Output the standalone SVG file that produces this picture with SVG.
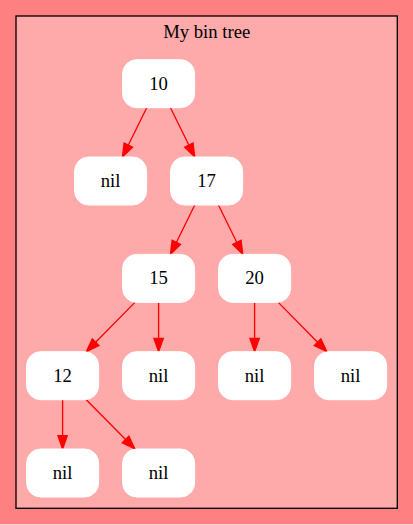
<svg xmlns="http://www.w3.org/2000/svg" width="413" height="525" viewBox="0 0 413 525">
<style>
.node rect{fill:#ffffff;stroke:#ffffff;stroke-width:1}
text{font-family:"Liberation Serif","Times New Roman",serif;font-size:18.67px;fill:#000000;text-anchor:middle}
.edges line{stroke:#ff0000;stroke-width:1.33}
.edges polygon{fill:#ff0000;stroke:#ff0000;stroke-width:1.33}
</style>
<rect x="0" y="0" width="413" height="524.4" fill="#ff8080"/>
<g id="cluster">
<rect x="16" y="16" width="381.3" height="492.3" fill="#ffaaaa" stroke="#000000" stroke-width="1.33"/>
<text x="206.7" y="37.8">My bin tree</text>
</g>
<g class="edges" id="edges">
<line x1="146.76" y1="107.7" x2="128.34" y2="145.04"/>
<polygon points="122.44,157 132.53,147.11 124.15,142.97"/>
<line x1="170.44" y1="107.7" x2="188.86" y2="145.04"/>
<polygon points="194.76,157 184.67,147.11 193.05,142.97"/>
<line x1="194.76" y1="205" x2="176.34" y2="242.44"/>
<polygon points="170.44,254.4 180.53,244.51 172.15,240.37"/>
<line x1="218.44" y1="205" x2="236.86" y2="242.44"/>
<polygon points="242.76,254.4 232.67,244.51 241.05,240.37"/>
<line x1="134.92" y1="302.4" x2="95.64" y2="342.21"/>
<polygon points="86.28,351.7 98.96,345.49 92.32,338.93"/>
<line x1="158.6" y1="302.4" x2="158.6" y2="338.37"/>
<polygon points="158.6,351.7 153.93,338.37 163.27,338.37"/>
<line x1="254.6" y1="302.4" x2="254.6" y2="338.37"/>
<polygon points="254.6,351.7 249.93,338.37 259.27,338.37"/>
<line x1="278.28" y1="302.4" x2="317.56" y2="342.21"/>
<polygon points="326.92,351.7 314.24,345.49 320.88,338.93"/>
<line x1="62.6" y1="399.7" x2="62.6" y2="435.67"/>
<polygon points="62.6,449 57.93,435.67 67.27,435.67"/>
<line x1="86.28" y1="399.7" x2="125.56" y2="439.51"/>
<polygon points="134.92,449 122.24,442.79 128.88,436.23"/>
</g>
<g id="n10" class="node"><rect x="122.6" y="59.7" width="72" height="48" rx="14"/><text x="158.6" y="89.5">10</text></g>
<g id="nilA" class="node"><rect x="74.6" y="157" width="72" height="48" rx="14"/><text x="110.6" y="186.8">nil</text></g>
<g id="n17" class="node"><rect x="170.6" y="157" width="72" height="48" rx="14"/><text x="206.6" y="186.8">17</text></g>
<g id="n15" class="node"><rect x="122.6" y="254.4" width="72" height="48" rx="14"/><text x="158.6" y="284.2">15</text></g>
<g id="n20" class="node"><rect x="218.6" y="254.4" width="72" height="48" rx="14"/><text x="254.6" y="284.2">20</text></g>
<g id="n12" class="node"><rect x="26.6" y="351.7" width="72" height="48" rx="14"/><text x="62.6" y="381.5">12</text></g>
<g id="nilB" class="node"><rect x="122.6" y="351.7" width="72" height="48" rx="14"/><text x="158.6" y="381.5">nil</text></g>
<g id="nilC" class="node"><rect x="218.6" y="351.7" width="72" height="48" rx="14"/><text x="254.6" y="381.5">nil</text></g>
<g id="nilD" class="node"><rect x="314.6" y="351.7" width="72" height="48" rx="14"/><text x="350.6" y="381.5">nil</text></g>
<g id="nilE" class="node"><rect x="26.6" y="449" width="72" height="48" rx="14"/><text x="62.6" y="478.8">nil</text></g>
<g id="nilF" class="node"><rect x="122.6" y="449" width="72" height="48" rx="14"/><text x="158.6" y="478.8">nil</text></g>
</svg>
